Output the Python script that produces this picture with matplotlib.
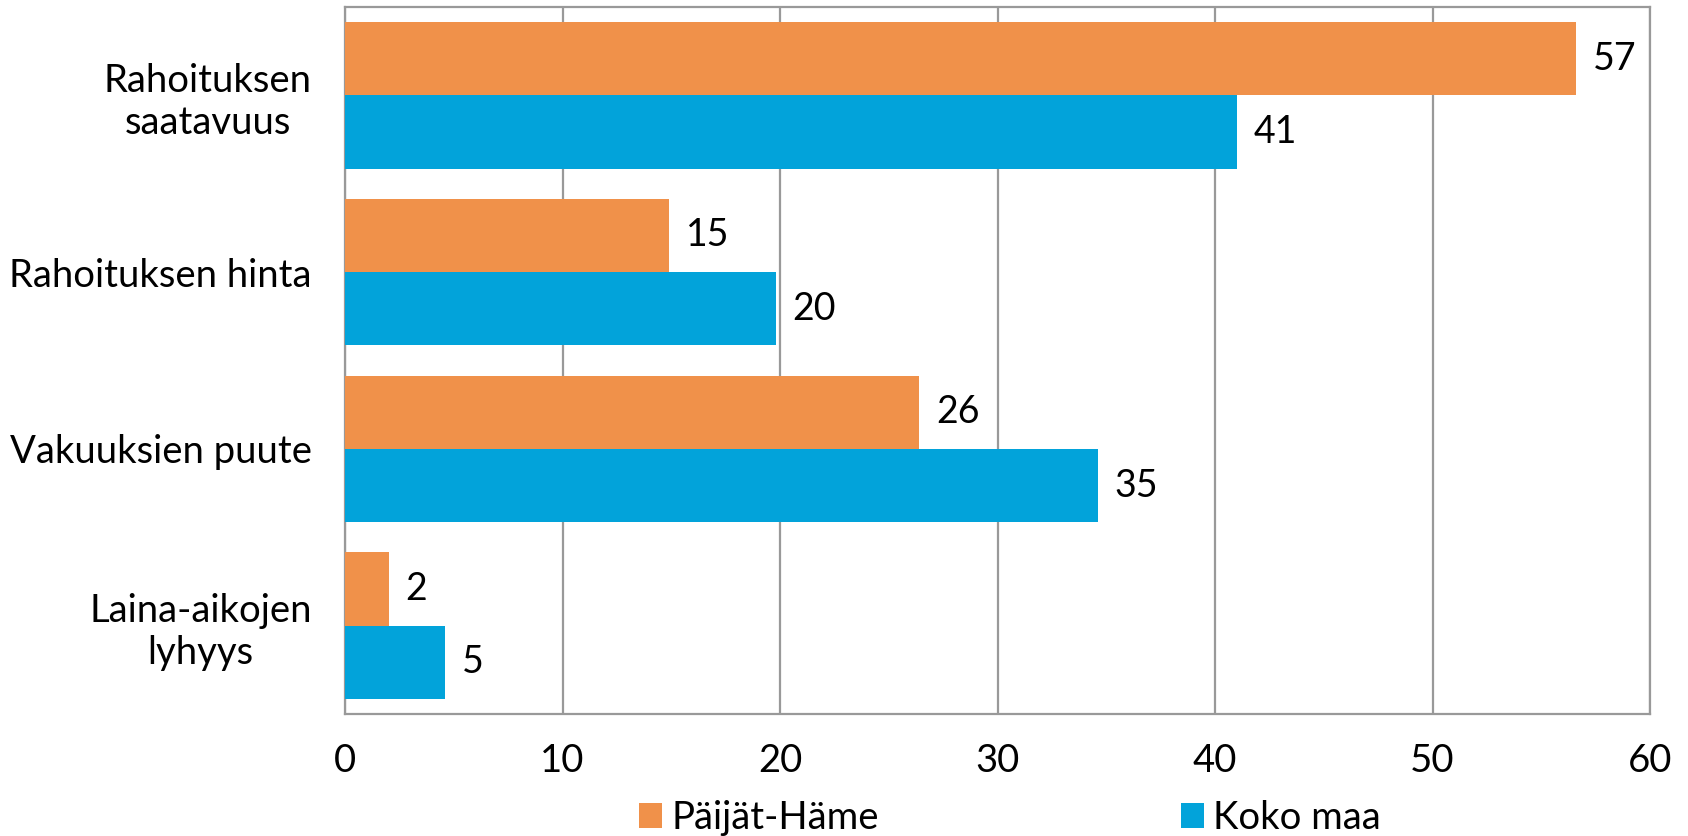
import numpy as np
import matplotlib
matplotlib.use("Agg")
import matplotlib.pyplot as plt

plt.rcParams['font.family'] = ['Lato', 'DejaVu Sans']

categories = ['Rahoituksen\nsaatavuus', 'Rahoituksen hinta', 'Vakuuksien puute', 'Laina-aikojen\nlyhyys']
series_names = ['Päijät-Häme', 'Koko maa']
paijat_hame = [56.6, 14.9, 26.4, 2.0]
koko_maa = [41.0, 19.8, 34.6, 4.6]
colors = ['#F0914A', '#02A3DA']

fig = plt.figure(figsize=(16.88, 8.36), dpi=100)
ax = fig.add_axes([345 / 1688, 1 - 714 / 836, (1650 - 345) / 1688, (714 - 7) / 836])

y = np.arange(len(categories))
h = 0.415
bars1 = ax.barh(y - h / 2, paijat_hame, height=h, color=colors[0], label=series_names[0], zorder=3)
bars2 = ax.barh(y + h / 2, koko_maa, height=h, color=colors[1], label=series_names[1], zorder=3)

for bars, vals in [(bars1, paijat_hame), (bars2, koko_maa)]:
    for b, v in zip(bars, vals):
        ax.annotate(f'{round(v):d}', (b.get_width(), b.get_y() + b.get_height() / 2),
                    xytext=(12, 0), textcoords='offset points', va='center', ha='left',
                    fontsize=27, color='black')

ax.set_xlim(0, 60)
ax.set_ylim(len(categories) - 0.5, -0.5)
ax.set_xticks(range(0, 61, 10))
ax.set_yticks(y)
ax.set_yticklabels(categories, multialignment='center')
ax.tick_params(axis='both', length=0, labelsize=27.5)
ax.tick_params(axis='x', pad=21)
ax.tick_params(axis='y', pad=24)
ax.grid(axis='x', color='#999999', linewidth=1.6, zorder=0)
for s in ax.spines.values():
    s.set_color('#999999')
    s.set_linewidth(1.6)

fig.legend(loc='center', bbox_to_anchor=(1010 / 1688, 1 - 818 / 836), ncol=2, frameon=False,
           fontsize=27.5, handlelength=0.6, handleheight=0.6, handletextpad=0.25,
           columnspacing=7.9, borderpad=0)

fig.savefig('out.png', dpi=100)
